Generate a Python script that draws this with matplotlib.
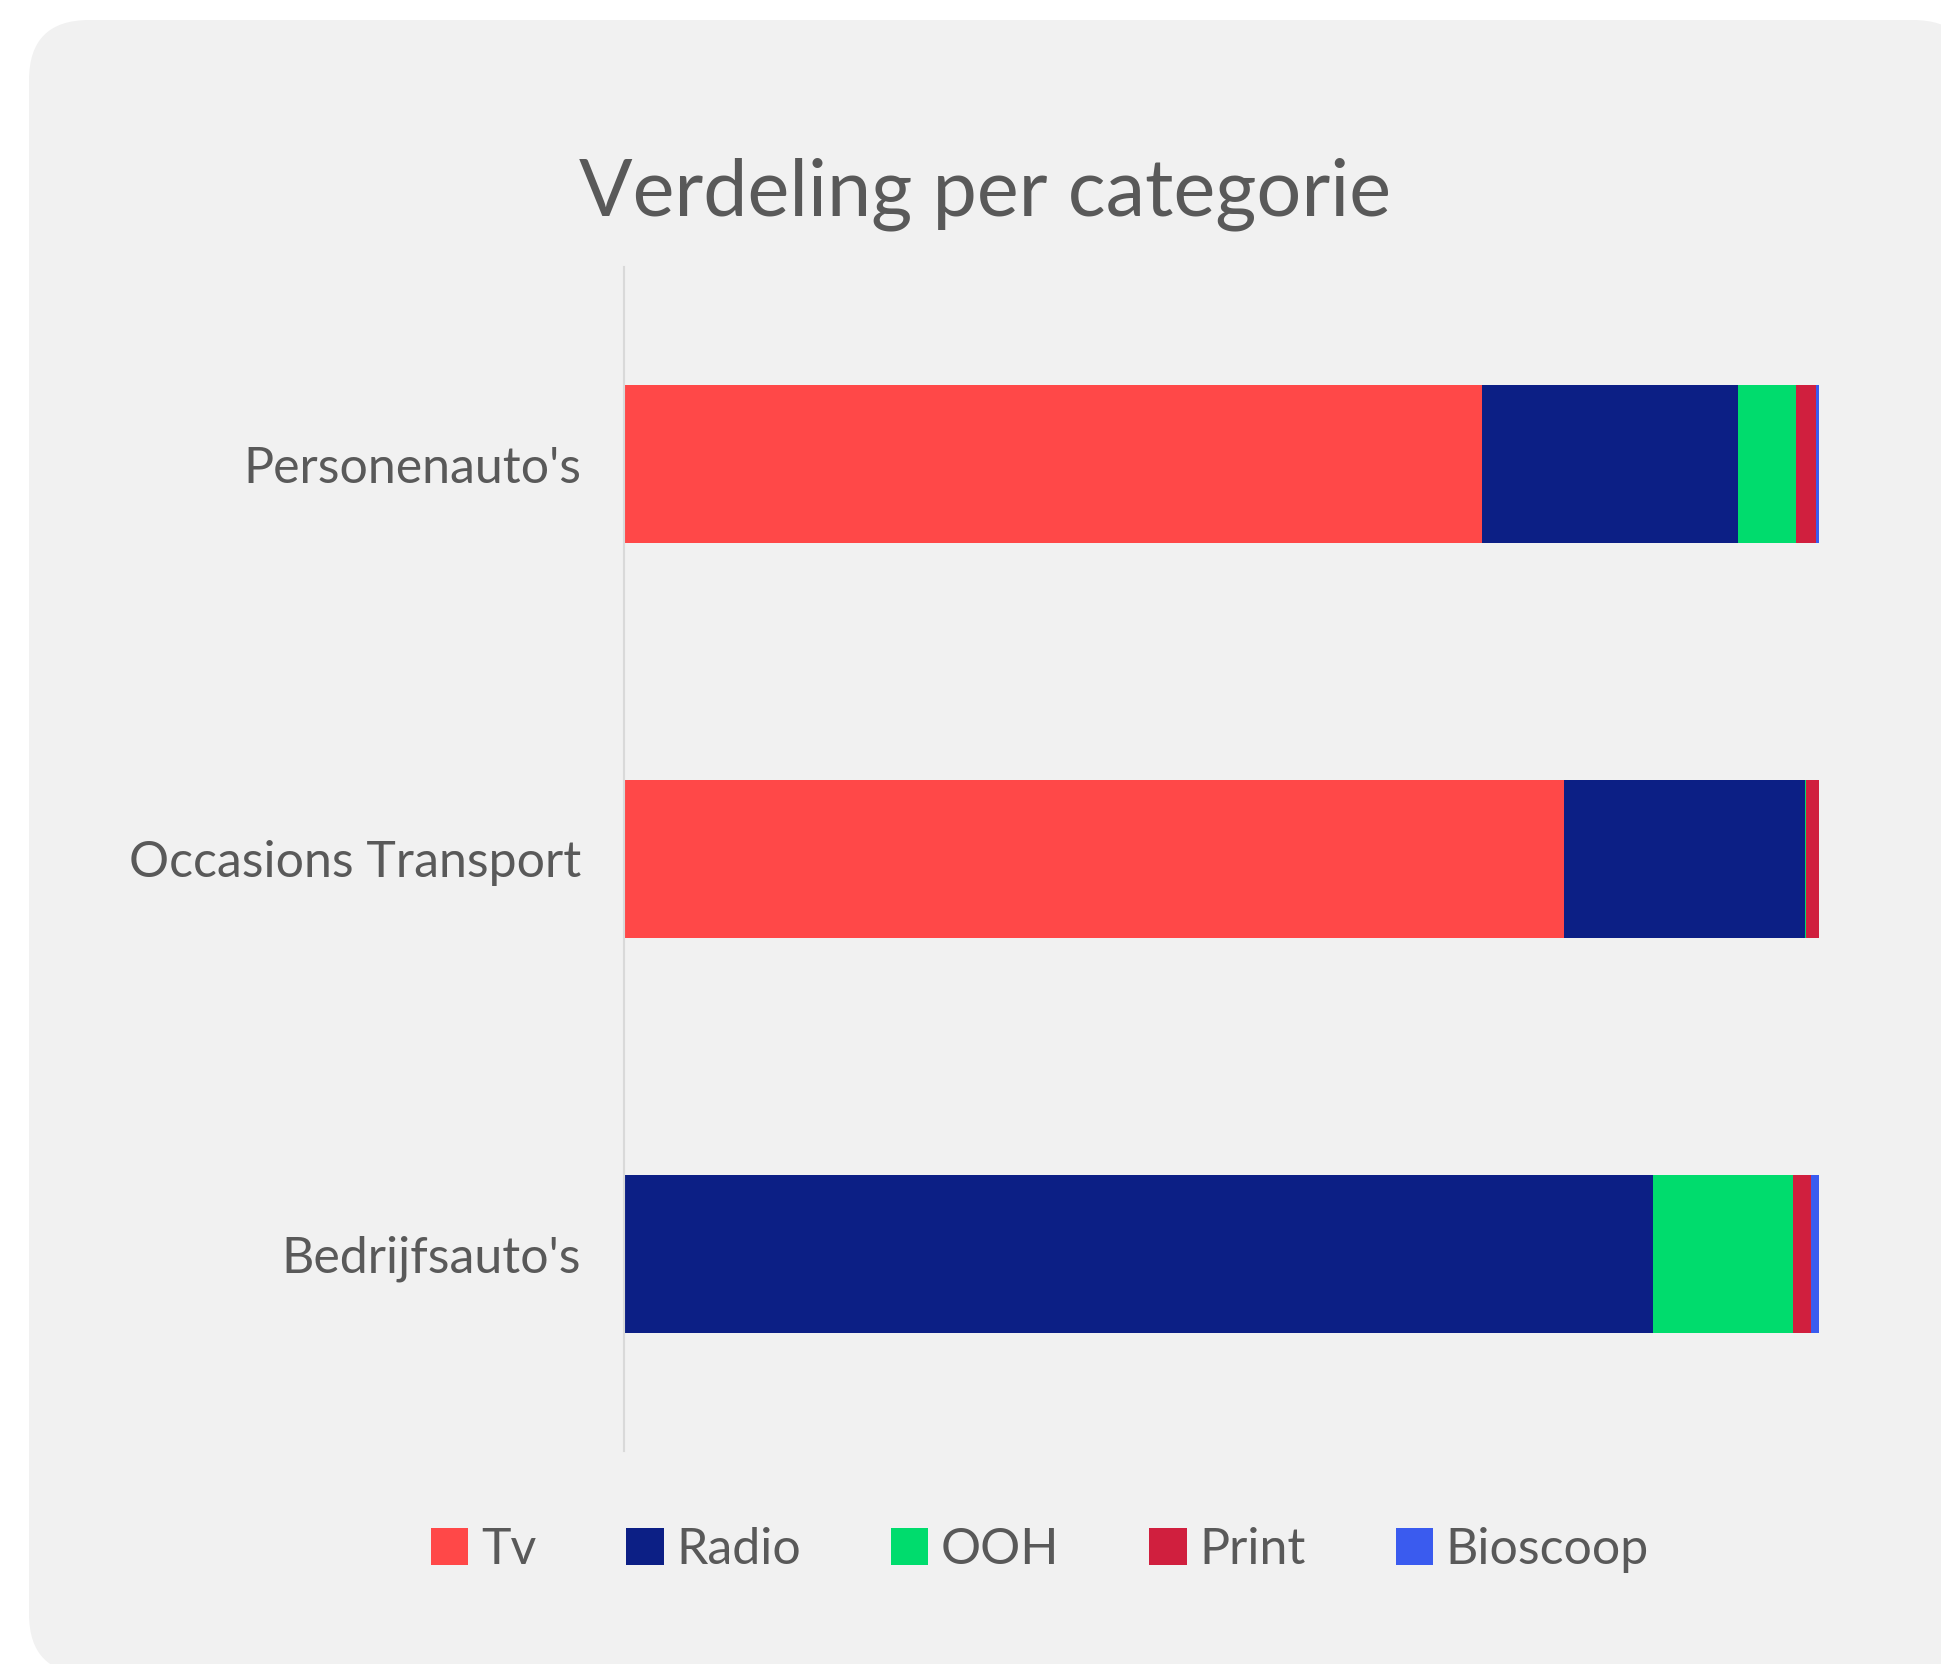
import matplotlib.pyplot as plt
import numpy as np
from matplotlib.patches import FancyBboxPatch, Patch

# categories (top to bottom) and share per medium, in percent
categories = ["Personenauto's", "Occasions Transport", "Bedrijfsauto's"]
media = ["Tv", "Radio", "OOH", "Print", "Bioscoop"]
tv = [71.8, 78.7, 0.0]
radio = [21.4, 20.1, 86.1]
ooh = [4.85, 0.1, 11.75]
prnt = [1.7, 1.1, 1.45]
bioscoop = [0.25, 0.0, 0.7]

colors = ['#FF4848', '#0C1F85', '#00DC6D', '#D01F3E', '#3A5BEF']
text_col = '#595959'

plt.rcParams['font.family'] = ['Lato', 'DejaVu Sans']

W, H = 1941, 1664
fig = plt.figure(figsize=(W / 100, H / 100), dpi=100)
fig.patch.set_facecolor('white')

# rounded grey card behind the chart (runs off the right and bottom edge)
x0, y_top = 29 / W, 1 - 20 / H
card = FancyBboxPatch((x0, -10 / H), (1973 - 29) / W, y_top + 10 / H,
                      boxstyle='round,pad=0,rounding_size=0.031',
                      transform=fig.transFigure, facecolor='#F1F1F1',
                      edgecolor='none', zorder=-5, mutation_aspect=W / H)
fig.patches.append(card)

ax = fig.add_axes([624 / W, 1 - 1451 / H, (1819 - 624) / W, (1451 - 267) / H])
ax.set_facecolor('none')
ax.set_zorder(2)

y = np.arange(len(categories))
left = np.zeros(len(categories))
for vals, col, name in zip([tv, radio, ooh, prnt, bioscoop], colors, media):
    ax.barh(y, vals, left=left, height=0.4, color=col, label=name)
    left += np.array(vals)

ax.set_xlim(0, left.max())
ax.set_ylim(len(categories) - 0.5, -0.5)
ax.set_yticks(y)
ax.set_yticklabels(categories, fontsize=36, color=text_col)
ax.tick_params(axis='y', length=0, pad=31)
ax.set_xticks([])
for s in ['top', 'right', 'bottom']:
    ax.spines[s].set_visible(False)
ax.spines['left'].set_color('#D9D9D9')
ax.spines['left'].set_linewidth(1.5)

fig.text(985 / W, 1 - 194 / H, 'Verdeling per categorie', fontsize=57,
         color=text_col, ha='center', va='center')

handles = [Patch(facecolor=c, edgecolor='none') for c in colors]
fig.legend(handles, media, loc='center', bbox_to_anchor=(1040 / W, 1 - 1550 / H),
           ncol=5, frameon=False, fontsize=36, labelcolor=text_col,
           handlelength=0.75, handleheight=0.75, handletextpad=0.25, columnspacing=1.8)

fig.savefig('out.png', dpi=100)
